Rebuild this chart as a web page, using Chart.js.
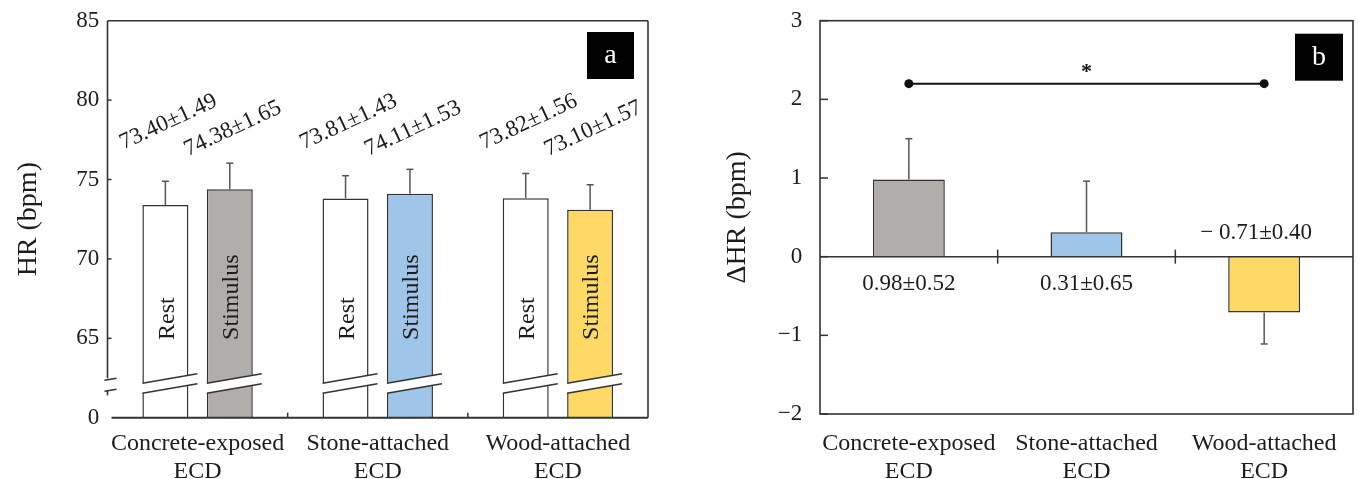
<!DOCTYPE html>
<html>
<head>
<meta charset="utf-8">
<script src="https://cdn.jsdelivr.net/npm/chart.js@4.4.1/dist/chart.umd.min.js"></script>
<style>
  html, body { margin: 0; padding: 0; background: #fff; }
  #wrap { position: relative; width: 1359px; height: 479px; }
  #chart-a { position: absolute; left: 0; top: 0; }
  #chart-b { position: absolute; left: 680px; top: 0; }
</style>
</head>
<body>
<div id="wrap">
  <canvas id="chart-a" width="680" height="479"></canvas>
  <canvas id="chart-b" width="679" height="479"></canvas>
</div>
<script>
// ── Data ──────────────────────────────────────────────────────────────────────

const CATEGORIES = [['Concrete-exposed', 'ECD'], ['Stone-attached', 'ECD'], ['Wood-attached', 'ECD']];

const REST_HR = [73.40, 73.81, 73.82];
const REST_SD = [1.49, 1.43, 1.56];
const STIM_HR = [74.38, 74.11, 73.10];
const STIM_SD = [1.65, 1.53, 1.57];

const DELTA_HR = [0.98, 0.31, -0.71];
const DELTA_SD = [0.52, 0.65, 0.40];

// panel a has a broken axis: the bottom tick (60) is labelled "0"
const HR_TICKS       = [60, 65, 70, 75, 80, 85];
const HR_TICK_LABELS = ['0', '65', '70', '75', '80', '85'];
const DELTA_TICKS    = [-2, -1, 0, 1, 2, 3];

const STIM_COLORS = ['#b1adab', '#9fc5e8', '#ffd966'];

// ── Style ─────────────────────────────────────────────────────────────────────

const SERIF = '"Liberation Serif", "Times New Roman", serif';
const INK   = '#1c1c1c';
const EDGE  = '#333';
const ERR   = '#555';

Chart.defaults.font.family = SERIF;
Chart.defaults.color = INK;

function fmt(v, sd) {
  const s = v < 0 ? '\u2212 ' + Math.abs(v).toFixed(2) : v.toFixed(2);
  return s + '±' + sd.toFixed(2);
}

function line(ctx, x1, y1, x2, y2) {
  ctx.beginPath();
  ctx.moveTo(x1, y1);
  ctx.lineTo(x2, y2);
  ctx.stroke();
}

function errorBar(ctx, x, yFrom, yTo) {
  ctx.strokeStyle = ERR;
  ctx.lineWidth = 1.5;
  line(ctx, x, yFrom, x, yTo);
  line(ctx, x - 3.5, yTo, x + 3.5, yTo);
}

function panelBox(ctx, x, y, w, h, letter) {
  ctx.fillStyle = '#000';
  ctx.fillRect(x, y, w, h);
  ctx.fillStyle = '#fff';
  ctx.font = '28px ' + SERIF;
  ctx.textAlign = 'center';
  ctx.textBaseline = 'middle';
  ctx.fillText(letter, x + w / 2, y + h / 2);
}

// the y ticks are pushed left with padding, which chart.js would also add above the plot
function fixWidth(w) {
  return s => { s.width = w; s.paddingTop = 0; s.paddingBottom = 0; };
}

// ── Panel a ───────────────────────────────────────────────────────────────────

const panelA = {
  id: 'panelA',
  afterDatasetsDraw(chart) {
    const { ctx, chartArea: a, scales: { x, y } } = chart;
    const sds = [REST_SD, STIM_SD];
    ctx.save();

    chart.data.datasets.forEach((ds, di) => {
      chart.getDatasetMeta(di).data.forEach((bar, i) => {
        const left = bar.x - bar.width / 2;
        const right = bar.x + bar.width / 2 + 9;
        const yb = y.getPixelForValue(61.85);
        const k = 10 / 57;
        // axis break across the bar
        ctx.fillStyle = '#fff';
        ctx.beginPath();
        ctx.moveTo(left - 1, yb - 5);
        ctx.lineTo(right, yb - 5 - (right - left + 1) * k);
        ctx.lineTo(right, yb + 5 - (right - left + 1) * k);
        ctx.lineTo(left - 1, yb + 5);
        ctx.closePath();
        ctx.fill();
        ctx.strokeStyle = EDGE;
        ctx.lineWidth = 1.5;
        line(ctx, left, yb - 5, right, yb - 5 - (right - left) * k);
        line(ctx, left, yb + 5, right, yb + 5 - (right - left) * k);

        // error bar
        const v = ds.data[i];
        errorBar(ctx, bar.x, bar.y, y.getPixelForValue(v + sds[di][i]));

        // rotated value label
        ctx.save();
        ctx.translate(bar.x + 3, y.getPixelForValue(di === 0 ? 78.62 : 78.2));
        ctx.rotate(-25 * Math.PI / 180);
        ctx.fillStyle = INK;
        ctx.font = '23px ' + SERIF;
        ctx.textAlign = 'center';
        ctx.textBaseline = 'middle';
        ctx.fillText(fmt(v, sds[di][i]), 0, 0);
        ctx.restore();

        // condition name inside the bar
        ctx.save();
        ctx.translate(bar.x + 2, y.getPixelForValue(64.9));
        ctx.rotate(-Math.PI / 2);
        ctx.fillStyle = INK;
        ctx.font = '24px ' + SERIF;
        ctx.textAlign = 'left';
        ctx.textBaseline = 'middle';
        ctx.fillText(ds.label, 0, 0);
        ctx.restore();
      });
    });

    // frame and broken y axis
    const yb = y.getPixelForValue(61.85);
    ctx.strokeStyle = EDGE;
    ctx.lineWidth = 1.6;
    line(ctx, a.left, a.top, a.right, a.top);
    line(ctx, a.right, a.top, a.right, a.bottom);
    line(ctx, a.left, a.top, a.left, yb - 10);
    line(ctx, a.left - 3, yb - 8, a.left + 9, yb - 10);
    line(ctx, a.left - 3, yb + 3, a.left + 9, yb + 1);
    line(ctx, a.left, yb + 2, a.left, yb + 7);
    ctx.lineWidth = 2;
    line(ctx, a.left + 4, a.bottom, a.right, a.bottom);

    // inward y ticks
    ctx.lineWidth = 1.5;
    HR_TICKS.slice(1, -1).forEach(v => {
      const py = y.getPixelForValue(v);
      line(ctx, a.left, py, a.left + 4, py);
    });

    // category separators on the base line
    for (let i = 0; i < CATEGORIES.length - 1; i++) {
      const px = (x.getPixelForValue(i) + x.getPixelForValue(i + 1)) / 2;
      line(ctx, px, a.bottom, px, a.bottom - 5);
    }

    panelBox(ctx, a.right - 61, a.top + 11.3, 47, 47, 'a');
    ctx.restore();
  }
};

new Chart(document.getElementById('chart-a'), {
  type: 'bar',
  data: {
    labels: CATEGORIES,
    datasets: [
      {
        label: 'Rest',
        data: REST_HR,
        backgroundColor: '#fff',
        borderColor: EDGE,
        borderWidth: 1.5,
        categoryPercentage: 0.715,
        barPercentage: 0.714,
      },
      {
        label: 'Stimulus',
        data: STIM_HR,
        backgroundColor: STIM_COLORS,
        borderColor: EDGE,
        borderWidth: 1.5,
        categoryPercentage: 0.715,
        barPercentage: 0.714,
      }
    ]
  },
  options: {
    responsive: false,
    animation: false,
    layout: { padding: { top: 20.7, right: 32, left: 0, bottom: 0 } },
    plugins: { legend: { display: false }, tooltip: { enabled: false } },
    scales: {
      x: {
        grid: { display: false, drawTicks: false },
        border: { display: false },
        ticks: { font: { size: 24, lineHeight: 28 / 24 }, padding: 11.8, maxRotation: 0, autoSkip: false },
        afterFit: s => { s.height = 61.3; }
      },
      y: {
        min: 60,
        max: 85,
        afterBuildTicks: s => { s.ticks = HR_TICKS.map(v => ({ value: v })); },
        grid: { display: false, drawTicks: false },
        border: { display: false },
        ticks: { font: { size: 23 }, padding: 8.2, callback: (v, i) => HR_TICK_LABELS[i] },
        title: { display: true, text: 'HR (bpm)', font: { size: 28 }, padding: { top: 12.2, bottom: 0 } },
        afterFit: fixWidth(107.5)
      }
    }
  },
  plugins: [panelA]
});

// ── Panel b ───────────────────────────────────────────────────────────────────

const panelB = {
  id: 'panelB',
  afterDatasetsDraw(chart) {
    const { ctx, chartArea: a, scales: { x, y } } = chart;
    const y0 = y.getPixelForValue(0);
    const bars = chart.getDatasetMeta(0).data;
    ctx.save();

    ctx.strokeStyle = EDGE;
    ctx.lineWidth = 1.6;
    ctx.strokeRect(a.left, a.top, a.right - a.left, a.bottom - a.top);
    ctx.lineWidth = 1.5;
    line(ctx, a.left, y0, a.right, y0);
    DELTA_TICKS.forEach(v => {
      const py = y.getPixelForValue(v);
      line(ctx, a.left, py, a.left + 8, py);
    });
    for (let i = 0; i < CATEGORIES.length - 1; i++) {
      const px = (x.getPixelForValue(i) + x.getPixelForValue(i + 1)) / 2;
      line(ctx, px, y0 - 7, px, y0 + 7);
    }

    bars.forEach((bar, i) => {
      const v = DELTA_HR[i];
      const sd = DELTA_SD[i];
      errorBar(ctx, bar.x, bar.y, y.getPixelForValue(v + Math.sign(v) * sd));
      ctx.fillStyle = INK;
      ctx.font = '23px ' + SERIF;
      ctx.textAlign = 'center';
      ctx.textBaseline = 'middle';
      if (v >= 0) ctx.fillText(fmt(v, sd), bar.x, y0 + 27);
      else ctx.fillText(fmt(v, sd), bar.x - 8, y0 - 24);
    });

    // significance bracket between first and last group
    const yb = y.getPixelForValue(2.2);
    const x1 = bars[0].x, x2 = bars[2].x;
    ctx.strokeStyle = '#111';
    ctx.lineWidth = 2;
    line(ctx, x1, yb, x2, yb);
    ctx.fillStyle = '#111';
    [x1, x2].forEach(px => {
      ctx.beginPath();
      ctx.arc(px, yb, 4.5, 0, Math.PI * 2);
      ctx.fill();
    });
    ctx.font = 'bold 22px ' + SERIF;
    ctx.textAlign = 'center';
    ctx.textBaseline = 'middle';
    ctx.fillText('*', (x1 + x2) / 2, yb - 11);

    panelBox(ctx, a.right - 58, a.top + 13, 48, 47, 'b');
    ctx.restore();
  }
};

new Chart(document.getElementById('chart-b'), {
  type: 'bar',
  data: {
    labels: CATEGORIES,
    datasets: [{
      label: 'ΔHR',
      data: DELTA_HR,
      backgroundColor: STIM_COLORS,
      borderColor: EDGE,
      borderWidth: 1.5,
      categoryPercentage: 1,
      barPercentage: 0.405,
    }]
  },
  options: {
    responsive: false,
    animation: false,
    layout: { padding: { top: 20.7, right: 6, left: 0, bottom: 0 } },
    plugins: { legend: { display: false }, tooltip: { enabled: false } },
    scales: {
      x: {
        grid: { display: false, drawTicks: false },
        border: { display: false },
        ticks: { font: { size: 24, lineHeight: 28 / 24 }, padding: 15.5, maxRotation: 0, autoSkip: false },
        afterFit: s => { s.height = 65; }
      },
      y: {
        min: -2,
        max: 3,
        afterBuildTicks: s => { s.ticks = DELTA_TICKS.map(v => ({ value: v })); },
        grid: { display: false, drawTicks: false },
        border: { display: false },
        ticks: { font: { size: 23 }, padding: 17.7, callback: v => v < 0 ? '\u2212' + Math.abs(v) : String(v) },
        title: { display: true, text: 'ΔHR (bpm)', font: { size: 28 }, padding: { top: 40.7, bottom: 0 } },
        afterFit: fixWidth(140)
      }
    }
  },
  plugins: [panelB]
});
</script>
</body>
</html>
